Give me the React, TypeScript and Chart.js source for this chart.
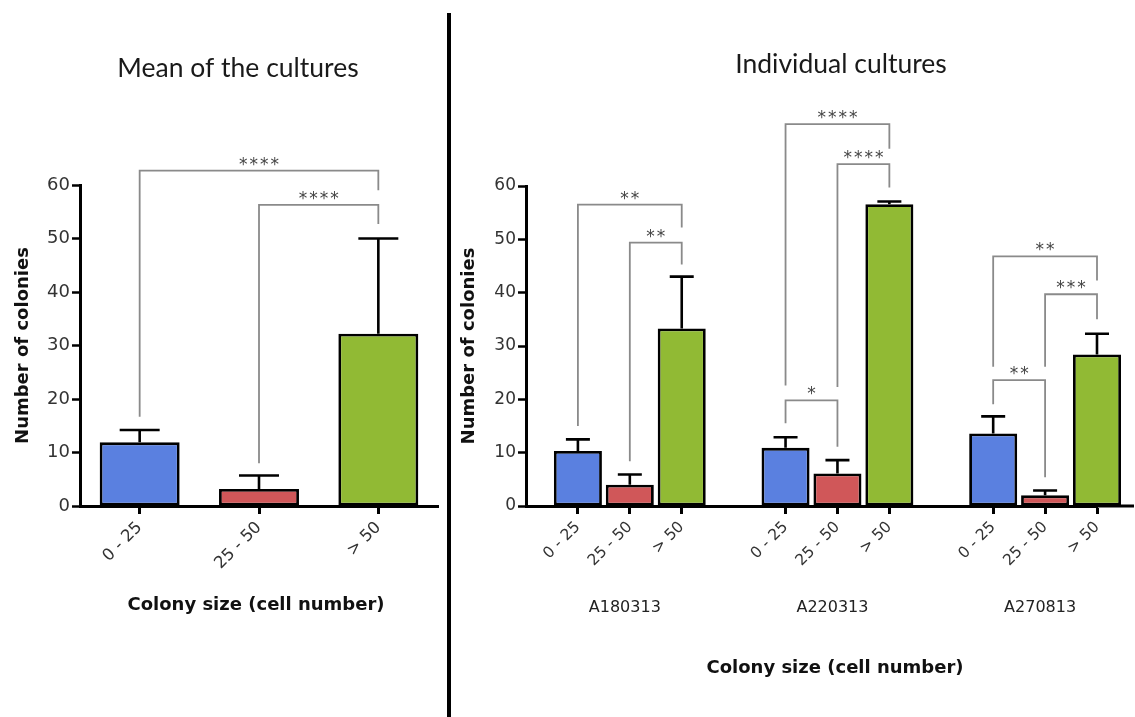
import { useEffect, useRef } from 'react';
import { Chart, registerables } from 'chart.js';

Chart.register(...registerables);

// ---------- data ----------
const sizeCategories = ['0 - 25', '25 - 50', '> 50'];
const barColors = ['#5A80E0', '#D05759', '#91BA34'];
const yTickValues = [0, 10, 20, 30, 40, 50, 60];

const meanValues = [11.9, 3.2, 32.2];
const meanErrors = [2.3, 2.5, 17.8];

const cultureNames = ['A180313', 'A220313', 'A270813'];
const a180313Values = [10.3, 4.0, 33.3];
const a180313Errors = [2.2, 1.9, 9.7];
const a220313Values = [10.9, 6.1, 56.6];
const a220313Errors = [2.0, 2.5, 0.5];
const a270813Values = [13.6, 2.0, 28.4];
const a270813Errors = [3.2, 0.9, 3.9];

type Bracket = { from: number; to: number; level: number; fromEnd: number; toEnd: number; stars: string };

const meanBrackets: Bracket[] = [
  { from: 0, to: 2, level: 62.7, fromEnd: 16.7, toEnd: 59.0, stars: '****' },
  { from: 1, to: 2, level: 56.3, fromEnd: 8.0, toEnd: 52.7, stars: '****' },
];
const a180313Brackets: Bracket[] = [
  { from: 0, to: 2, level: 56.5, fromEnd: 15.0, toEnd: 52.2, stars: '**' },
  { from: 1, to: 2, level: 49.4, fromEnd: 8.4, toEnd: 45.3, stars: '**' },
];
const a220313Brackets: Bracket[] = [
  { from: 0, to: 2, level: 71.6, fromEnd: 22.6, toEnd: 67.0, stars: '****' },
  { from: 1, to: 2, level: 64.1, fromEnd: 22.3, toEnd: 59.7, stars: '****' },
  { from: 0, to: 1, level: 19.8, fromEnd: 15.5, toEnd: 11.1, stars: '*' },
];
const a270813Brackets: Bracket[] = [
  { from: 0, to: 2, level: 46.8, fromEnd: 26.1, toEnd: 42.3, stars: '**' },
  { from: 1, to: 2, level: 39.7, fromEnd: 26.1, toEnd: 35.0, stars: '***' },
  { from: 0, to: 1, level: 23.6, fromEnd: 19.1, toEnd: 5.4, stars: '**' },
];

// ---------- derived ----------
const cultureValues = [a180313Values, a220313Values, a270813Values];
const cultureErrors = [a180313Errors, a220313Errors, a270813Errors];
const cultureBrackets = [a180313Brackets, a220313Brackets, a270813Brackets];

// group layout: an empty slot before each culture
const rightLabels: string[] = [];
const rightData: (number | null)[] = [];
const rightErr: (number | null)[] = [];
const rightColors: string[] = [];
const groupOffsets: number[] = [];
cultureValues.forEach((vals, g) => {
  rightLabels.push('');
  rightData.push(null);
  rightErr.push(null);
  rightColors.push('rgba(0,0,0,0)');
  groupOffsets.push(rightLabels.length);
  vals.forEach((v, i) => {
    rightLabels.push(sizeCategories[i]);
    rightData.push(v);
    rightErr.push(cultureErrors[g][i]);
    rightColors.push(barColors[i]);
  });
});
const rightBrackets: Bracket[] = [];
cultureBrackets.forEach((list, g) => {
  list.forEach((b) => rightBrackets.push({ ...b, from: b.from + groupOffsets[g], to: b.to + groupOffsets[g] }));
});

const H = 717;
const TICK_FONT = 'DejaVu Sans';
const BOLD_FONT = 'bold 18px "DejaVu Sans"';

type Extra = {
  errors: (number | null)[];
  brackets: Bracket[];
  title: string;
  titleX: number;
  titleY: number;
  yTitleX: number;
  xTitleX: number;
  xTitleY: number;
  extendAxisTo?: number;
  groupLabels?: { text: string; index: number }[];
};

function annotationPlugin(extra: Extra) {
  return {
    id: 'annot',
    afterDatasetsDraw(chart: any) {
      const ctx = chart.ctx as CanvasRenderingContext2D;
      const y = chart.scales.y;
      const meta = chart.getDatasetMeta(0);
      const data = chart.data.datasets[0].data as (number | null)[];
      ctx.save();
      // error bars
      ctx.strokeStyle = '#000';
      ctx.lineWidth = 2.6;
      meta.data.forEach((bar: any, i: number) => {
        const v = data[i];
        const e = extra.errors[i];
        if (v == null || e == null) return;
        const top = y.getPixelForValue(v + e);
        const w = bar.width;
        ctx.beginPath();
        ctx.moveTo(bar.x, bar.y);
        ctx.lineTo(bar.x, top);
        ctx.moveTo(bar.x - w / 4, top);
        ctx.lineTo(bar.x + w / 4, top);
        ctx.stroke();
      });
      // brackets
      ctx.strokeStyle = '#8a8a8a';
      ctx.lineWidth = 1.8;
      ctx.fillStyle = '#444';
      ctx.font = '17px "DejaVu Sans"';
      ctx.textAlign = 'center';
      ctx.textBaseline = 'alphabetic';
      (ctx as any).letterSpacing = '2px';
      extra.brackets.forEach((b) => {
        const xa = meta.data[b.from].x;
        const xb = meta.data[b.to].x;
        const yl = y.getPixelForValue(b.level);
        ctx.beginPath();
        ctx.moveTo(xa, y.getPixelForValue(b.fromEnd));
        ctx.lineTo(xa, yl);
        ctx.lineTo(xb, yl);
        ctx.lineTo(xb, y.getPixelForValue(b.toEnd));
        ctx.stroke();
        ctx.fillText(b.stars, (xa + xb) / 2 + 1, yl - 1);
      });
      ctx.restore();
    },
    afterDraw(chart: any) {
      const ctx = chart.ctx as CanvasRenderingContext2D;
      const area = chart.chartArea;
      ctx.save();
      if (extra.extendAxisTo) {
        ctx.strokeStyle = '#000';
        ctx.lineWidth = 3;
        ctx.beginPath();
        ctx.moveTo(area.right - 1, chart.scales.x.top);
        ctx.lineTo(extra.extendAxisTo, chart.scales.x.top);
        ctx.stroke();
      }
      ctx.fillStyle = '#1a1a1a';
      ctx.textAlign = 'center';
      ctx.textBaseline = 'middle';
      ctx.font = '26.5px Lato';
      ctx.fillText(extra.title, extra.titleX, extra.titleY);
      ctx.font = BOLD_FONT;
      ctx.fillStyle = '#111';
      ctx.fillText('Colony size (cell number)', extra.xTitleX, extra.xTitleY);
      ctx.save();
      ctx.translate(extra.yTitleX, (area.top + area.bottom) / 2);
      ctx.rotate(-Math.PI / 2);
      ctx.fillText('Number of colonies', 0, 0);
      ctx.restore();
      if (extra.groupLabels) {
        ctx.font = '16px "DejaVu Sans"';
        ctx.fillStyle = '#222';
        const meta = chart.getDatasetMeta(0);
        extra.groupLabels.forEach((gl) => {
          ctx.fillText(gl.text, meta.data[gl.index].x - 5, 608);
        });
      }
      ctx.restore();
    },
  };
}

function buildConfig(opts: {
  labels: string[];
  data: (number | null)[];
  colors: string[];
  barRatio: number;
  offset: boolean;
  yWidth: number;
  padding: { left: number; right: number; top: number; bottom: number };
  tickFontSize: number;
  xTickFontSize: number;
  extra: Extra;
}) {
  const labels = opts.labels;
  return {
    type: 'bar' as const,
    data: {
      labels,
      datasets: [
        {
          data: opts.data,
          backgroundColor: opts.colors,
          borderColor: opts.data.map((v) => (v == null ? 'rgba(0,0,0,0)' : '#000')),
          borderWidth: 2.8,
          borderSkipped: false,
          categoryPercentage: 1,
          barPercentage: opts.barRatio,
          clip: false,
        },
      ],
    },
    options: {
      responsive: false,
      animation: false,
      events: [],
      layout: { padding: opts.padding },
      plugins: { legend: { display: false }, tooltip: { enabled: false }, title: { display: false } },
      scales: {
        x: {
          type: 'category',
          offset: opts.offset,
          grid: {
            offset: false,
            drawOnChartArea: false,
            drawTicks: true,
            tickLength: 8,
            tickWidth: 3,
            tickColor: (c: any) => (labels[c.index] ? '#000' : 'rgba(0,0,0,0)'),
          },
          border: { display: true, color: '#000', width: 3 },
          ticks: {
            autoSkip: false,
            minRotation: 45,
            maxRotation: 45,
            color: '#333',
            padding: 4,
            font: { family: TICK_FONT, size: opts.xTickFontSize },
          },
          afterFit: (s: any) => {
            s.height = H - 506 - opts.padding.bottom;
          },
        },
        y: {
          min: 0,
          max: 60,
          afterBuildTicks: (s: any) => {
            s.ticks = yTickValues.map((v) => ({ value: v }));
          },
          grid: {
            drawOnChartArea: false,
            drawTicks: true,
            tickLength: 8,
            tickWidth: 2.5,
            tickColor: '#000',
          },
          border: { display: true, color: '#000', width: 3 },
          ticks: {
            color: '#333',
            padding: 2,
            font: { family: TICK_FONT, size: opts.tickFontSize },
          },
          afterFit: (s: any) => {
            s.width = opts.yWidth;
          },
        },
      },
    },
    plugins: [annotationPlugin(opts.extra)],
  };
}

function ChartCanvas({ left, width, config }: { left: number; width: number; config: any }) {
  const ref = useRef<HTMLCanvasElement | null>(null);
  useEffect(() => {
    if (!ref.current) return;
    const chart = new Chart(ref.current, config);
    return () => chart.destroy();
  }, []);
  return (
    <canvas
      ref={ref}
      width={width}
      height={H}
      style={{ position: 'absolute', left, top: 0, width, height: H, display: 'block' }}
    />
  );
}

const LEFT_W = 446;
const RIGHT_X = 453;
const RIGHT_W = 1135 - RIGHT_X;

const leftConfig = buildConfig({
  labels: sizeCategories,
  data: meanValues,
  colors: barColors,
  barRatio: 0.67,
  offset: true,
  yWidth: 80,
  padding: { left: 0, right: LEFT_W - 438, top: 185, bottom: 0 },
  tickFontSize: 18,
  xTickFontSize: 16.5,
  extra: {
    errors: meanErrors,
    brackets: meanBrackets,
    title: 'Mean of the cultures',
    titleX: 238,
    titleY: 68,
    yTitleX: 23,
    xTitleX: 256,
    xTitleY: 605,
  },
});

const rightConfig = buildConfig({
  labels: rightLabels,
  data: rightData,
  colors: rightColors,
  barRatio: 0.925,
  offset: false,
  yWidth: 526 - RIGHT_X,
  padding: { left: 0, right: RIGHT_X + RIGHT_W - 1097, top: 186, bottom: 0 },
  tickFontSize: 17,
  xTickFontSize: 15.5,
  extra: {
    errors: rightErr,
    brackets: rightBrackets,
    title: 'Individual cultures',
    titleX: 841 - RIGHT_X,
    titleY: 64,
    yTitleX: 469 - RIGHT_X,
    xTitleX: 835 - RIGHT_X,
    xTitleY: 668,
    extendAxisTo: RIGHT_W - 1,
    groupLabels: cultureNames.map((n, g) => ({ text: n, index: groupOffsets[g] + 1 })),
  },
});

export default function App() {
  return (
    <div style={{ position: 'absolute', left: 0, top: 0, width: 1135, height: H, background: '#fff', overflow: 'hidden' }}>
      <ChartCanvas left={0} width={LEFT_W} config={leftConfig} />
      <div style={{ position: 'absolute', left: 447, top: 13, width: 3.5, height: H - 13, background: '#000' }} />
      <ChartCanvas left={RIGHT_X} width={RIGHT_W} config={rightConfig} />
    </div>
  );
}
